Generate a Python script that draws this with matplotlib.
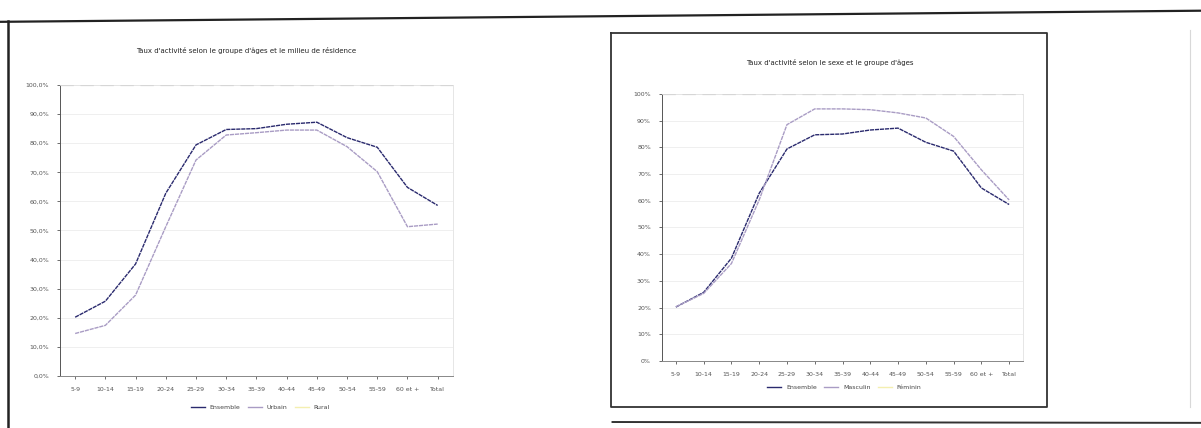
import numpy as np
import matplotlib
matplotlib.use("Agg")
import matplotlib.pyplot as plt
from matplotlib.lines import Line2D

# groupes d'âges
ages = ["5-9", "10-14", "15-19", "20-24", "25-29", "30-34", "35-39",
        "40-44", "45-49", "50-54", "55-59", "60 et +", "Total"]

# taux d'activité (%)
ensemble = [20.2, 25.7, 38.5, 62.8, 79.4, 84.7, 85.0, 86.5, 87.2, 81.9, 78.6, 64.8, 58.6]
urbain = [14.6, 17.4, 27.8, 51.3, 74.2, 82.8, 83.6, 84.5, 84.5, 78.8, 70.2, 51.3, 52.2]
masculin = [20.3, 25.3, 36.5, 60.3, 88.5, 94.4, 94.4, 94.1, 92.9, 91.0, 84.1, 71.6, 60.3]

titre_g = "Taux d'activité selon le groupe d'âges et le milieu de résidence"
titre_d = "Taux d'activité selon le sexe et le groupe d'âges"

c_dark = "#2a2a6e"
c_light = "#a99cc4"
c_yel = "#f4efb0"

fig = plt.figure(figsize=(12.01, 4.28), dpi=100)
fig.patch.set_facecolor("white")

# cadres de la page scannée
fig.add_artist(Line2D([0.0, 1.0], [0.949, 0.975], color="#222222", lw=1.6))
fig.add_artist(Line2D([0.007, 0.007], [0.0, 0.95], color="#222222", lw=1.8))
fig.add_artist(Line2D([0.51, 1.0], [0.014, 0.012], color="#333333", lw=1.4))
# cadre du second graphique
fig.add_artist(Line2D([0.509, 0.872, 0.872, 0.509, 0.509],
                      [0.923, 0.923, 0.049, 0.049, 0.923], color="#333333", lw=1.3))
fig.add_artist(Line2D([0.991, 0.991], [0.05, 0.93], color="#d8d8d8", lw=0.8))


def panel(rect, s1, s2, labels, title, fmt, title_xy, leg_y):
    ax = fig.add_axes(rect)
    x = np.arange(len(ages))
    ax.plot(x, s1, color=c_dark, lw=1.0, ls=(0, (3, 0.6)))
    ax.plot(x, s2, color=c_light, lw=1.0, ls=(0, (3, 0.6)))
    ax.set_xlim(-0.5, len(ages) - 0.5)
    ax.set_ylim(0, 100)
    ax.set_yticks(np.arange(0, 101, 10))
    ax.set_yticklabels([fmt(v) for v in range(0, 101, 10)], fontsize=4.5, color="#444444")
    ax.set_xticks(x)
    ax.set_xticklabels(ages, fontsize=4.5, color="#444444")
    ax.tick_params(length=2, width=0.6, pad=6, colors="#555555")
    ax.grid(axis="y", color="#ececec", lw=0.6)
    ax.set_axisbelow(True)
    for s in ["top", "right"]:
        ax.spines[s].set_color("#e2e2e2")
        ax.spines[s].set_linewidth(0.6)
    ax.spines["left"].set_color("#555555")
    ax.spines["left"].set_linewidth(0.7)
    ax.spines["bottom"].set_color("#888888")
    ax.spines["bottom"].set_linewidth(0.7)
    ax.axhline(100, color="#999999", lw=0.8, ls=(0, (12, 6)))
    fig.text(title_xy[0], title_xy[1], title, fontsize=5, ha="center", va="center", color="#222222")
    handles = [Line2D([], [], color=c, lw=1.0) for c in [c_dark, c_light, c_yel]]
    fig.legend(handles, labels, loc="center", bbox_to_anchor=(title_xy[0] + 0.012, leg_y),
               ncol=3, frameon=False, fontsize=4.5, handlelength=2.2, columnspacing=1.2,
               labelcolor="#444444")
    return ax


panel([0.050, 0.1215, 0.327, 0.680], ensemble, urbain,
      ["Ensemble", "Urbain", "Rural"], titre_g,
      lambda v: f"{v},0%", (0.205, 0.882), 0.049)
panel([0.5512, 0.1565, 0.3006, 0.624], ensemble, masculin,
      ["Ensemble", "Masculin", "Féminin"], titre_d,
      lambda v: f"{v}%", (0.691, 0.853), 0.094)

fig.savefig("out.png", dpi=100, facecolor="white")
